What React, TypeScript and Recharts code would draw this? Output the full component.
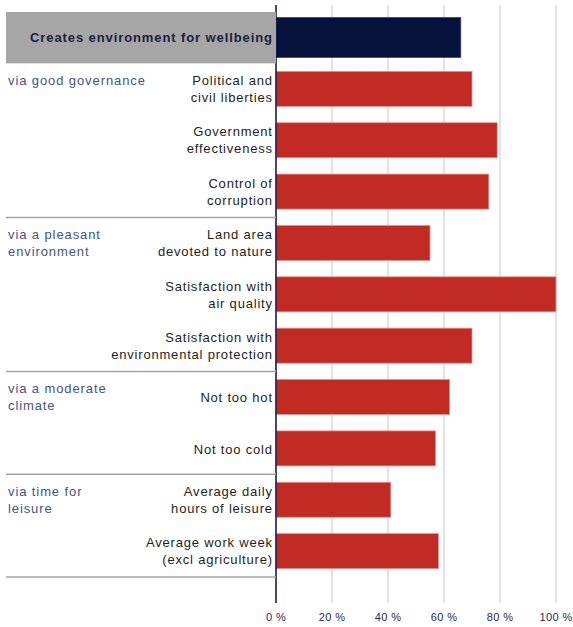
import React from 'react'
import { BarChart, Bar, XAxis, YAxis, CartesianGrid } from 'recharts'

// one row per bar, top to bottom
const categorias = [
  'Creates environment for wellbeing',
  'Political and\ncivil liberties',
  'Government\neffectiveness',
  'Control of\ncorruption',
  'Land area\ndevoted to nature',
  'Satisfaction with\nair quality',
  'Satisfaction with\nenvironmental protection',
  'Not too hot',
  'Not too cold',
  'Average daily\nhours of leisure',
  'Average work week\n(excl agriculture)',
]

const valores = [66, 70, 79, 76, 55, 100, 70, 62, 57, 41, 58]

// group label shown on the first row of each group
const grupos = [
  '',
  'via good governance',
  '',
  '',
  'via a pleasant\nenvironment',
  '',
  '',
  'via a moderate\nclimate',
  '',
  'via time for\nleisure',
  '',
]

const ticksX = [0, 20, 40, 60, 80, 100]

const AZUL = '#06123b'
const ROJO = '#c22b23'
const FUENTE = '"Liberation Sans", Arial, sans-serif'

const ANCHO = 573
const ALTO = 627
const MARGEN = { top: 5, right: 17, bottom: 0, left: 6 }
const ANCHO_EJE_Y = 270
const ALTO_EJE_X = 24
const PAD_Y = { top: 7, bottom: 26 }
const BANDA =
  (ALTO - MARGEN.top - MARGEN.bottom - ALTO_EJE_X - PAD_Y.top - PAD_Y.bottom) / categorias.length

const datos = categorias.map((c, i) => ({ cat: c, valor: valores[i] }))

function TickCategoria(props: any) {
  const { x, y, payload, index } = props
  const idx = index ?? categorias.indexOf(payload.value)
  const mitad = payload.offset || BANDA / 2
  const izq = x - ANCHO_EJE_Y + 6
  const lineas = String(payload.value).split('\n')
  const grupo = grupos[idx] ? grupos[idx].split('\n') : []
  const ultimoDeGrupo = idx > 0 && (idx === categorias.length - 1 || grupos[idx + 1])

  if (idx === 0) {
    return (
      <g>
        <rect x={MARGEN.left} y={y - mitad} width={ANCHO_EJE_Y} height={mitad * 2} fill="#a6a6a6" />
        <text
          x={x + 0.9}
          y={y + 4.5}
          textAnchor="end"
          fontFamily={FUENTE}
          fontSize={13}
          fontWeight="bold"
          letterSpacing={0.9}
          fill="#1b2040"
        >
          {lineas[0]}
        </text>
      </g>
    )
  }

  return (
    <g>
      {lineas.map((l, i) => (
        <text
          key={i}
          x={x + 0.8}
          y={lineas.length === 1 ? y + 5 : y - 4 + i * 17}
          textAnchor="end"
          fontFamily={FUENTE}
          fontSize={13}
          letterSpacing={0.8}
          fill="#1e1e1e"
        >
          {l}
        </text>
      ))}
      {grupo.map((l, i) => (
        <text
          key={'g' + i}
          x={izq}
          y={y - 4 + i * 17}
          fontFamily={FUENTE}
          fontSize={13}
          letterSpacing={0.9}
          fill="#43548a"
        >
          {l}
        </text>
      ))}
      {ultimoDeGrupo ? (
        <line
          x1={MARGEN.left}
          x2={MARGEN.left + ANCHO_EJE_Y}
          y1={y + mitad}
          y2={y + mitad}
          stroke="#a3a3a3"
          strokeWidth={1.5}
        />
      ) : null}
    </g>
  )
}

function FormaBarra(props: any) {
  const { x, y, width, height, index } = props
  const grande = index === 0
  const extra = grande ? 2.5 : 0
  return (
    <rect
      x={x}
      y={y - extra}
      width={width}
      height={height + extra * 2}
      fill={grande ? AZUL : ROJO}
      stroke={grande ? '#3b4670' : '#e3928c'}
      strokeWidth={0.8}
    />
  )
}

export default function App() {
  return (
    <div style={{ position: 'absolute', left: 0, top: 0, background: '#fff' }}>
      <BarChart width={ANCHO} height={ALTO} data={datos} layout="vertical" margin={MARGEN} barSize={35}>
        <CartesianGrid horizontal={false} stroke="#d7dae4" strokeWidth={1.5} />
        <XAxis
          type="number"
          domain={[0, 100]}
          ticks={ticksX}
          tickFormatter={(v) => `${v} %`}
          axisLine={false}
          tickLine={false}
          tickSize={0}
          tickMargin={10}
          height={ALTO_EJE_X}
          interval={0}
          tick={{ fill: '#1f2a58', fontSize: 11, fontFamily: FUENTE, letterSpacing: 0.4 }}
        />
        <YAxis
          type="category"
          dataKey="cat"
          width={ANCHO_EJE_Y}
          padding={PAD_Y}
          interval={0}
          tickLine={false}
          tickSize={0}
          tickMargin={4}
          axisLine={{ stroke: '#0b1845', strokeWidth: 1.5 }}
          tick={<TickCategoria />}
        />
        <Bar dataKey="valor" isAnimationActive={false} shape={<FormaBarra />} />
      </BarChart>
    </div>
  )
}
